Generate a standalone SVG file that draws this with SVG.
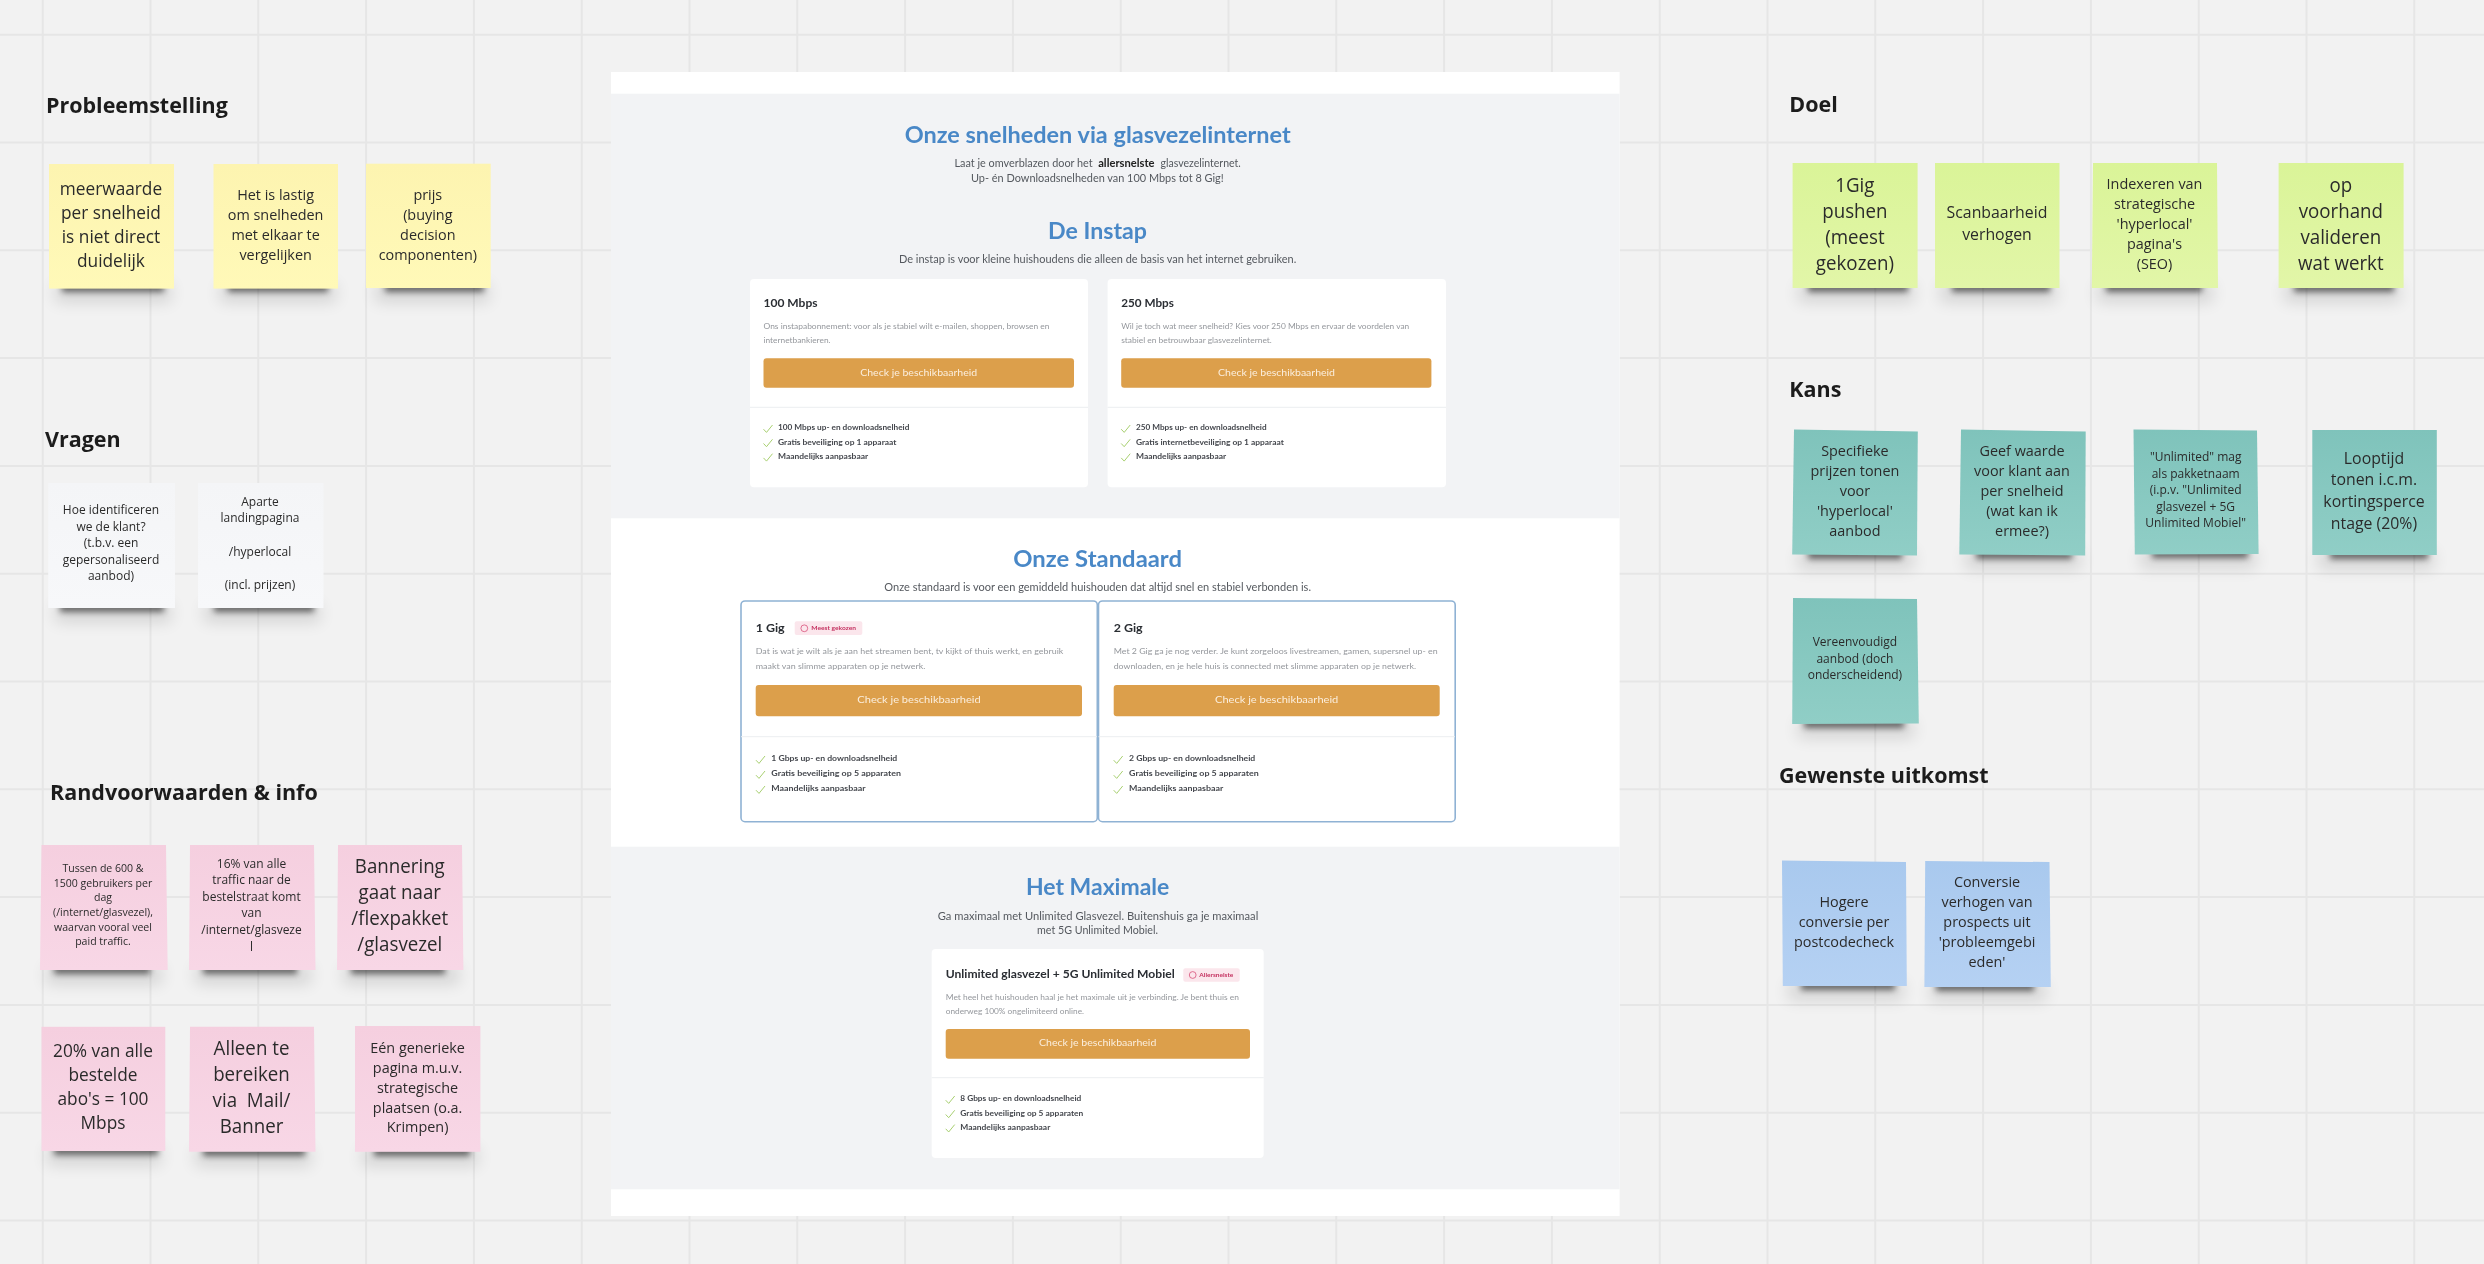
<svg xmlns="http://www.w3.org/2000/svg" xmlns:xlink="http://www.w3.org/1999/xlink" width="2484" height="1264" viewBox="0 0 2484 1264">
<style>
text{font-family:"Open Sans","Noto Sans","Liberation Sans",sans-serif;fill:#2b2b2b}
.h{font-weight:700;font-size:21.5px;fill:#1c1c1c}
.n text{text-anchor:middle;transform:scaleX(.96);transform-box:fill-box;transform-origin:center}
.f11{font-size:11px}.f12{font-size:12.5px}.f15{font-size:15px}.f16{font-size:16.5px}.f18{font-size:18px}.f19{font-size:19.5px}
.y{fill:url(#gy)}.w{fill:url(#gw)}.p{fill:url(#gp)}.g{fill:url(#gg)}.t{fill:url(#gt)}.b{fill:url(#gb)}
.grid{stroke:#e6e6e6;stroke-width:2;fill:none}
.sd1{fill:#000;opacity:.55;filter:url(#b1)}.sd2{fill:#000;opacity:.12;filter:url(#b2)}
#panel text{font-family:Lato,"Liberation Sans",sans-serif}
.hd{font-size:22px;font-weight:700;fill:#4a88c7}
.sub{font-size:10.5px;fill:#55595f}.sb{font-weight:700;fill:#222}
.ct{font-size:12px;font-weight:700;fill:#2a2d33}
.ds{font-size:8px;fill:#94979c}
.ft{font-size:8px;font-weight:700;fill:#44474d}
.bt{font-size:9.5px;fill:#fbeedd}
.bd{font-size:6px;font-weight:700;fill:#c4305f}
.btn{fill:#dc9f4b}
.card{fill:#fff}
.cb{fill:#fff;stroke:#8fb2d4;stroke-width:1.6}
.dv{stroke:#eceef0;stroke-width:1}
.chk{fill:none;stroke:#a8d070;stroke-width:1}
.soft{filter:url(#s)}
</style>
<defs>
<linearGradient id="gy" x1="0" y1="0" x2="0" y2="1"><stop offset="0" stop-color="#fdf4b0"/><stop offset="1" stop-color="#fff9b8"/></linearGradient>
<linearGradient id="gw" x1="0" y1="0" x2="0" y2="1"><stop offset="0" stop-color="#f4f5f7"/><stop offset="1" stop-color="#f7f8fa"/></linearGradient>
<linearGradient id="gp" x1="0" y1="0" x2="0" y2="1"><stop offset="0" stop-color="#f5cfdf"/><stop offset="1" stop-color="#f8d7e6"/></linearGradient>
<linearGradient id="gg" x1="0" y1="0" x2="0" y2="1"><stop offset="0" stop-color="#daf498"/><stop offset="1" stop-color="#e2f6a8"/></linearGradient>
<linearGradient id="gt" x1="0" y1="0" x2="0" y2="1"><stop offset="0" stop-color="#7fc3bb"/><stop offset="1" stop-color="#90cec6"/></linearGradient>
<linearGradient id="gb" x1="0" y1="0" x2="0" y2="1"><stop offset="0" stop-color="#a9c9ee"/><stop offset="1" stop-color="#b5d1f3"/></linearGradient>
<filter id="b1" x="-20%" y="-200%" width="140%" height="500%"><feGaussianBlur stdDeviation="3.2"/></filter>
<filter id="b2" x="-20%" y="-200%" width="140%" height="500%"><feGaussianBlur stdDeviation="8"/></filter>
<filter id="s" x="-2%" y="-2%" width="104%" height="104%"><feGaussianBlur stdDeviation="0.35"/></filter>
<path id="c" class="chk" d="M0 4.2 L3 7.4 L9 0"/>
<circle id="bc" r="3.4" fill="none" stroke="#d8507a" stroke-width=".8"/>
</defs>
<rect width="2484" height="1264" fill="#f2f2f2"/>
<path id="grid" class="grid" d="M42.7 0V1264M150.5 0V1264M258.3 0V1264M366.1 0V1264M473.9 0V1264M581.7 0V1264M689.5 0V1264M797.3 0V1264M905.1 0V1264M1012.9 0V1264M1120.7 0V1264M1228.5 0V1264M1336.3 0V1264M1444.1 0V1264M1551.9 0V1264M1659.7 0V1264M1767.5 0V1264M1875.3 0V1264M1983.1 0V1264M2090.9 0V1264M2198.7 0V1264M2306.5 0V1264M2414.3 0V1264M0 34.7H2484M0 142.5H2484M0 250.3H2484M0 358.1H2484M0 465.9H2484M0 573.7H2484M0 681.5H2484M0 789.3H2484M0 897.1H2484M0 1004.9H2484M0 1112.7H2484M0 1220.5H2484"/>

<g id="panel">
<rect x="611" y="72" width="1008.6" height="1144" fill="#fff"/>
<rect x="611" y="93.7" width="1008.6" height="424.6" fill="#f2f3f5"/>
<rect x="611" y="846.7" width="1008.6" height="342.6" fill="#f2f3f5"/>
<g id="intro" class="soft">
<text class="hd" x="904.7" y="142.5" textLength="386" lengthAdjust="spacingAndGlyphs">Onze snelheden via glasvezelinternet</text>
<text class="sub" y="167.3"><tspan x="954.5" textLength="141" lengthAdjust="spacingAndGlyphs">Laat je omverblazen door het </tspan><tspan class="sb" x="1098.2" textLength="56.3" lengthAdjust="spacingAndGlyphs">allersnelste</tspan><tspan x="1157.8" textLength="83" lengthAdjust="spacingAndGlyphs"> glasvezelinternet.</tspan></text>
<text class="sub" x="971" y="182" textLength="252.7" lengthAdjust="spacingAndGlyphs">Up- én Downloadsnelheden van 100 Mbps tot 8 Gig!</text>
<text class="hd" x="1048" y="238.5" textLength="99" lengthAdjust="spacingAndGlyphs">De Instap</text>
<text class="sub" x="899" y="263" textLength="397.3" lengthAdjust="spacingAndGlyphs">De instap is voor kleine huishoudens die alleen de basis van het internet gebruiken.</text>
</g>
<g id="card-100" class="soft">
<rect class="card" x="750" y="279" width="338" height="208.3" rx="4"/>
<text class="ct" x="763.5" y="307.3" textLength="54" lengthAdjust="spacingAndGlyphs">100 Mbps</text>
<text class="ds" x="763.5" y="329" textLength="286" lengthAdjust="spacingAndGlyphs">Ons instapabonnement: voor als je stabiel wilt e-mailen, shoppen, browsen en</text>
<text class="ds" x="763.5" y="343" textLength="67" lengthAdjust="spacingAndGlyphs">internetbankieren.</text>
<rect class="btn" x="763.5" y="358.3" width="310.5" height="29.4" rx="3"/>
<text class="bt" x="860.2" y="375.7" textLength="117" lengthAdjust="spacingAndGlyphs">Check je beschikbaarheid</text>
<line class="dv" x1="750" x2="1088" y1="407.3" y2="407.3"/>
<use xlink:href="#c" x="763.5" y="425"/><use xlink:href="#c" x="763.5" y="439.3"/><use xlink:href="#c" x="763.5" y="453.7"/>
<text class="ft" x="778" y="430" textLength="131.4" lengthAdjust="spacingAndGlyphs">100 Mbps up- en downloadsnelheid</text>
<text class="ft" x="778" y="444.5" textLength="118.4" lengthAdjust="spacingAndGlyphs">Gratis beveiliging op 1 apparaat</text>
<text class="ft" x="778" y="459" textLength="90.2" lengthAdjust="spacingAndGlyphs">Maandelijks aanpasbaar</text>
</g>
<g id="card-250" class="soft">
<rect class="card" x="1107.6" y="279" width="338.4" height="208.3" rx="4"/>
<text class="ct" x="1121.2" y="307.3" textLength="52.7" lengthAdjust="spacingAndGlyphs">250 Mbps</text>
<text class="ds" x="1121.2" y="329" textLength="288" lengthAdjust="spacingAndGlyphs">Wil je toch wat meer snelheid? Kies voor 250 Mbps en ervaar de voordelen van</text>
<text class="ds" x="1121.2" y="343" textLength="150.6" lengthAdjust="spacingAndGlyphs">stabiel en betrouwbaar glasvezelinternet.</text>
<rect class="btn" x="1121.2" y="358.3" width="310.2" height="29.4" rx="3"/>
<text class="bt" x="1218" y="375.7" textLength="117" lengthAdjust="spacingAndGlyphs">Check je beschikbaarheid</text>
<line class="dv" x1="1107.6" x2="1446" y1="407.3" y2="407.3"/>
<use xlink:href="#c" x="1121.2" y="425"/><use xlink:href="#c" x="1121.2" y="439.3"/><use xlink:href="#c" x="1121.2" y="453.7"/>
<text class="ft" x="1136" y="430" textLength="130.6" lengthAdjust="spacingAndGlyphs">250 Mbps up- en downloadsnelheid</text>
<text class="ft" x="1136" y="444.5" textLength="147.8" lengthAdjust="spacingAndGlyphs">Gratis internetbeveiliging op 1 apparaat</text>
<text class="ft" x="1136" y="459" textLength="90.2" lengthAdjust="spacingAndGlyphs">Maandelijks aanpasbaar</text>
</g>
<g id="standaard-head" class="soft">
<text class="hd" x="1013.3" y="566.5" textLength="168.7" lengthAdjust="spacingAndGlyphs">Onze Standaard</text>
<text class="sub" x="884.3" y="591.3" textLength="426.7" lengthAdjust="spacingAndGlyphs">Onze standaard is voor een gemiddeld huishouden dat altijd snel en stabiel verbonden is.</text>
</g>
<g id="card-1gig" class="soft">
<rect class="cb" x="741" y="601" width="356.3" height="220.7" rx="4"/>
<text class="ct" x="755.7" y="631.7" textLength="29" lengthAdjust="spacingAndGlyphs">1 Gig</text>
<rect x="794.7" y="621.3" width="67.6" height="13.7" rx="2" fill="#fbe6ec"/>
<use xlink:href="#bc" x="804.3" y="628.3"/>
<text class="bd" x="811.3" y="630.2" textLength="44.7" lengthAdjust="spacingAndGlyphs">Meest gekozen</text>
<text class="ds" x="755.7" y="654.3" textLength="307.6" lengthAdjust="spacingAndGlyphs">Dat is wat je wilt als je aan het streamen bent, tv kijkt of thuis werkt, en gebruik</text>
<text class="ds" x="755.7" y="669.3" textLength="169.6" lengthAdjust="spacingAndGlyphs">maakt van slimme apparaten op je netwerk.</text>
<rect class="btn" x="755.7" y="685" width="326.3" height="31.3" rx="3"/>
<text class="bt" x="857.3" y="703.3" textLength="123.4" lengthAdjust="spacingAndGlyphs">Check je beschikbaarheid</text>
<line class="dv" x1="741" x2="1097" y1="736.7" y2="736.7"/>
<use xlink:href="#c" x="756" y="756"/><use xlink:href="#c" x="756" y="771"/><use xlink:href="#c" x="756" y="786"/>
<text class="ft" x="771.3" y="761" textLength="126" lengthAdjust="spacingAndGlyphs">1 Gbps up- en downloadsnelheid</text>
<text class="ft" x="771.3" y="776" textLength="129.7" lengthAdjust="spacingAndGlyphs">Gratis beveiliging op 5 apparaten</text>
<text class="ft" x="771.3" y="791" textLength="94.3" lengthAdjust="spacingAndGlyphs">Maandelijks aanpasbaar</text>
</g>
<g id="card-2gig" class="soft">
<rect class="cb" x="1098.5" y="601" width="356.7" height="220.7" rx="4"/>
<text class="ct" x="1113.7" y="631.7" textLength="29" lengthAdjust="spacingAndGlyphs">2 Gig</text>
<text class="ds" x="1113.7" y="654.3" textLength="324" lengthAdjust="spacingAndGlyphs">Met 2 Gig ga je nog verder. Je kunt zorgeloos livestreamen, gamen, supersnel up- en</text>
<text class="ds" x="1113.7" y="669.3" textLength="302.3" lengthAdjust="spacingAndGlyphs">downloaden, en je hele huis is connected met slimme apparaten op je netwerk.</text>
<rect class="btn" x="1113.7" y="685" width="326" height="31.3" rx="3"/>
<text class="bt" x="1215" y="703.3" textLength="123.3" lengthAdjust="spacingAndGlyphs">Check je beschikbaarheid</text>
<line class="dv" x1="1098.5" x2="1455" y1="736.7" y2="736.7"/>
<use xlink:href="#c" x="1113.7" y="756"/><use xlink:href="#c" x="1113.7" y="771"/><use xlink:href="#c" x="1113.7" y="786"/>
<text class="ft" x="1129" y="761" textLength="126.3" lengthAdjust="spacingAndGlyphs">2 Gbps up- en downloadsnelheid</text>
<text class="ft" x="1129" y="776" textLength="129.7" lengthAdjust="spacingAndGlyphs">Gratis beveiliging op 5 apparaten</text>
<text class="ft" x="1129" y="791" textLength="94.3" lengthAdjust="spacingAndGlyphs">Maandelijks aanpasbaar</text>
</g>
<g id="maximale-head" class="soft">
<text class="hd" x="1026" y="894.8" textLength="143.3" lengthAdjust="spacingAndGlyphs">Het Maximale</text>
<text class="sub" x="937.7" y="919.7" textLength="320.6" lengthAdjust="spacingAndGlyphs">Ga maximaal met Unlimited Glasvezel. Buitenshuis ga je maximaal</text>
<text class="sub" x="1037" y="933.7" textLength="121" lengthAdjust="spacingAndGlyphs">met 5G Unlimited Mobiel.</text>
</g>
<g id="card-unlimited" class="soft">
<rect class="card" x="931.7" y="949" width="332" height="209" rx="4"/>
<text class="ct" x="945.7" y="978" textLength="229" lengthAdjust="spacingAndGlyphs">Unlimited glasvezel + 5G Unlimited Mobiel</text>
<rect x="1183.3" y="968.3" width="56.4" height="13.4" rx="2" fill="#fbe6ec"/>
<use xlink:href="#bc" x="1192.7" y="975"/>
<text class="bd" x="1199.3" y="977" textLength="34" lengthAdjust="spacingAndGlyphs">Allersnelste</text>
<text class="ds" x="945.7" y="999.7" textLength="293.3" lengthAdjust="spacingAndGlyphs">Met heel het huishouden haal je het maximale uit je verbinding. Je bent thuis en</text>
<text class="ds" x="945.7" y="1013.7" textLength="138.3" lengthAdjust="spacingAndGlyphs">onderweg 100% ongelimiteerd online.</text>
<rect class="btn" x="945.7" y="1029" width="304.3" height="29.7" rx="3"/>
<text class="bt" x="1039" y="1046" textLength="117.3" lengthAdjust="spacingAndGlyphs">Check je beschikbaarheid</text>
<line class="dv" x1="931.7" x2="1263.7" y1="1077.7" y2="1077.7"/>
<use xlink:href="#c" x="945.7" y="1096"/><use xlink:href="#c" x="945.7" y="1110.3"/><use xlink:href="#c" x="945.7" y="1124.6"/>
<text class="ft" x="960.3" y="1101.3" textLength="121" lengthAdjust="spacingAndGlyphs">8 Gbps up- en downloadsnelheid</text>
<text class="ft" x="960.3" y="1115.7" textLength="123" lengthAdjust="spacingAndGlyphs">Gratis beveiliging op 5 apparaten</text>
<text class="ft" x="960.3" y="1130" textLength="90" lengthAdjust="spacingAndGlyphs">Maandelijks aanpasbaar</text>
</g>
</g>

<g id="headings" class="soft">
<text class="h" x="45.9" y="113">Probleemstelling</text>
<text class="h" x="45" y="447">Vragen</text>
<text class="h" x="50" y="800">Randvoorwaarden &amp; info</text>
<text class="h" x="1789.3" y="112.2">Doel</text>
<text class="h" x="1789.3" y="396.5">Kans</text>
<text class="h" x="1779" y="782.7">Gewenste uitkomst</text>
</g>

<g id="n1" class="n"><rect class="sd2" x="55" y="284" width="116" height="18"/><rect class="sd1" x="62" y="283" width="102" height="9"/><rect class="y" x="49" y="164" width="125" height="124.6"/>
<text class="f18 soft"><tspan x="111" y="195">meerwaarde</tspan><tspan x="111" y="219">per snelheid</tspan><tspan x="111" y="243">is niet direct</tspan><tspan x="111" y="267">duidelijk</tspan></text></g>
<g id="n2" class="n"><rect class="sd2" x="220" y="284" width="116" height="18"/><rect class="sd1" x="228" y="283" width="100" height="9"/><rect class="y" x="213.5" y="164" width="124.5" height="124.6"/>
<text class="f15 soft"><tspan x="275.6" y="200">Het is lastig</tspan><tspan x="275.6" y="220">om snelheden</tspan><tspan x="275.6" y="240">met elkaar te</tspan><tspan x="275.6" y="260">vergelijken</tspan></text></g>
<g id="n3" class="n"><rect class="sd2" x="375" y="284" width="114" height="18"/><rect class="sd1" x="385" y="283" width="99" height="9"/><rect class="y" x="366" y="163.7" width="124.7" height="124.3"/>
<text class="f15 soft"><tspan x="427.8" y="200">prijs</tspan><tspan x="427.8" y="220">(buying</tspan><tspan x="427.8" y="240">decision</tspan><tspan x="427.8" y="260">componenten)</tspan></text></g>
<g id="n4" class="n"><rect class="sd2" x="55" y="604" width="116" height="18"/><rect class="sd1" x="60" y="603" width="104" height="9"/><rect class="w" x="48.2" y="483" width="126.8" height="125"/>
<text class="f12 soft"><tspan x="111" y="514">Hoe identificeren</tspan><tspan x="111" y="530.6">we de klant?</tspan><tspan x="111" y="547.3">(t.b.v. een</tspan><tspan x="111" y="564">gepersonaliseerd</tspan><tspan x="111" y="580.4">aanbod)</tspan></text></g>
<g id="n5" class="n"><rect class="sd2" x="204" y="604" width="116" height="18"/><rect class="sd1" x="214" y="603" width="100" height="9"/><rect class="w" x="198" y="483" width="125.5" height="125"/>
<text class="f12 soft"><tspan x="260" y="506">Aparte</tspan><tspan x="260" y="522.4">landingpagina</tspan><tspan x="260" y="556">/hyperlocal</tspan><tspan x="260" y="589">(incl. prijzen)</tspan></text></g>

<g id="n6" class="n"><rect class="sd2" x="46" y="966" width="116" height="18"/><rect class="sd1" x="54" y="965" width="96" height="9"/><polygon class="p" points="41.5,845 166,845 167.7,970 40,970"/>
<text class="f11 soft"><tspan x="103" y="872">Tussen de 600 &amp;</tspan><tspan x="103" y="886.7">1500 gebruikers per</tspan><tspan x="103" y="901.4">dag</tspan><tspan x="103" y="916">(/internet/glasvezel),</tspan><tspan x="103" y="931">waarvan vooral veel</tspan><tspan x="103" y="945">paid traffic.</tspan></text></g>
<g id="n7" class="n"><rect class="sd2" x="195" y="966" width="116" height="18"/><rect class="sd1" x="203" y="965" width="94" height="9"/><polygon class="p" points="190,845 314,845 315.5,970 189,970"/>
<text class="f12 soft"><tspan x="251.5" y="867.7">16% van alle</tspan><tspan x="251.5" y="884.4">traffic naar de</tspan><tspan x="251.5" y="901">bestelstraat komt</tspan><tspan x="251.5" y="917.5">van</tspan><tspan x="251.5" y="934">/internet/glasveze</tspan><tspan x="251.5" y="950.6">l</tspan></text></g>
<g id="n8" class="n"><rect class="sd2" x="343" y="966" width="116" height="18"/><rect class="sd1" x="351" y="965" width="94" height="9"/><polygon class="p" points="338,845 462,845 463.4,970 337,970"/>
<text class="f19 soft"><tspan x="399.8" y="873">Bannering</tspan><tspan x="399.8" y="899.4">gaat naar</tspan><tspan x="399.8" y="925">/flexpakket</tspan><tspan x="399.8" y="951">/glasvezel</tspan></text></g>
<g id="n9" class="n"><rect class="sd2" x="47" y="1147" width="114" height="18"/><rect class="sd1" x="54" y="1146" width="104" height="9"/><rect class="p" x="41.5" y="1026.8" width="123.8" height="124.2"/>
<text class="f18 soft"><tspan x="103" y="1057.5">20% van alle</tspan><tspan x="103" y="1081">bestelde</tspan><tspan x="103" y="1105">abo's = 100</tspan><tspan x="103" y="1129.4">Mbps</tspan></text></g>
<g id="n10" class="n"><rect class="sd2" x="195" y="1148" width="116" height="18"/><rect class="sd1" x="203" y="1147" width="102" height="9"/><polygon class="p" points="190,1026.8 314,1026.8 315.5,1151.8 189,1151.8"/>
<text class="f19 soft"><tspan x="251.5" y="1055.5">Alleen te</tspan><tspan x="251.5" y="1081">bereiken</tspan><tspan x="251.5" y="1107.3" xml:space="preserve">via  Mail/</tspan><tspan x="251.5" y="1133">Banner</tspan></text></g>
<g id="n11" class="n"><rect class="sd2" x="362" y="1148" width="116" height="18"/><rect class="sd1" x="374" y="1147" width="96" height="9"/><rect class="p" x="355" y="1026" width="125.4" height="125.8"/>
<text class="f15 soft"><tspan x="417.6" y="1052.8">Eén generieke</tspan><tspan x="417.6" y="1072.9">pagina m.u.v.</tspan><tspan x="417.6" y="1092.6">strategische</tspan><tspan x="417.6" y="1112.7">plaatsen (o.a.</tspan><tspan x="417.6" y="1132.4">Krimpen)</tspan></text></g>

<g id="n12" class="n"><rect class="sd2" x="1798" y="284" width="116" height="18"/><rect class="sd1" x="1808" y="283" width="100" height="9"/><rect class="g" x="1792.6" y="163" width="125" height="125"/>
<text class="f19 soft"><tspan x="1854.9" y="192">1Gig</tspan><tspan x="1854.9" y="217.9">pushen</tspan><tspan x="1854.9" y="243.7">(meest</tspan><tspan x="1854.9" y="269.6">gekozen)</tspan></text></g>
<g id="n13" class="n"><rect class="sd2" x="1940" y="284" width="116" height="18"/><rect class="sd1" x="1952" y="283" width="98" height="9"/><rect class="g" x="1935" y="163" width="124.5" height="125"/>
<text class="f16 soft"><tspan x="1997" y="217.9">Scanbaarheid</tspan><tspan x="1997" y="240">verhogen</tspan></text></g>
<g id="n14" class="n"><rect class="sd2" x="2097" y="284" width="116" height="18"/><rect class="sd1" x="2106" y="283" width="96" height="9"/><polygon class="g" points="2093,163 2217,163 2218,288 2091.8,288"/>
<text class="f15 soft"><tspan x="2154.5" y="189.4">Indexeren van</tspan><tspan x="2154.5" y="209">strategische</tspan><tspan x="2154.5" y="229">'hyperlocal'</tspan><tspan x="2154.5" y="249">pagina's</tspan><tspan x="2154.5" y="269">(SEO)</tspan></text></g>
<g id="n15" class="n"><rect class="sd2" x="2284" y="284" width="116" height="18"/><rect class="sd1" x="2294" y="283" width="100" height="9"/><rect class="g" x="2278.6" y="163" width="125" height="125"/>
<text class="f19 soft"><tspan x="2340.8" y="192">op</tspan><tspan x="2340.8" y="217.9">voorhand</tspan><tspan x="2340.8" y="243.7">valideren</tspan><tspan x="2340.8" y="269.6">wat werkt</tspan></text></g>

<g id="n16" class="n"><rect class="sd2" x="1798" y="551" width="116" height="18"/><rect class="sd1" x="1808" y="550" width="94" height="9"/><polygon class="t" points="1794,429.5 1917.8,431.5 1917,555.5 1792.2,554.5"/>
<text class="f15 soft"><tspan x="1854.9" y="456.4">Specifieke</tspan><tspan x="1854.9" y="476.2">prijzen tonen</tspan><tspan x="1854.9" y="496">voor</tspan><tspan x="1854.9" y="516">'hyperlocal'</tspan><tspan x="1854.9" y="536">aanbod</tspan></text></g>
<g id="n17" class="n"><rect class="sd2" x="1965" y="551" width="116" height="18"/><rect class="sd1" x="1976" y="550" width="96" height="9"/><polygon class="t" points="1961,429.5 2085.7,431.5 2085.2,555.5 1959.3,554.5"/>
<text class="f15 soft"><tspan x="2022" y="456.4">Geef waarde</tspan><tspan x="2022" y="476.2">voor klant aan</tspan><tspan x="2022" y="496">per snelheid</tspan><tspan x="2022" y="516">(wat kan ik</tspan><tspan x="2022" y="536">ermee?)</tspan></text></g>
<g id="n18" class="n"><rect class="sd2" x="2140" y="550" width="116" height="18"/><rect class="sd1" x="2152" y="549" width="96" height="9"/><polygon class="t" points="2133.5,429.5 2257,430.5 2258.6,554 2134.8,554.5"/>
<text class="f12 soft"><tspan x="2195.7" y="461.3">"Unlimited" mag</tspan><tspan x="2195.7" y="478">als pakketnaam</tspan><tspan x="2195.7" y="494.5">(i.p.v. "Unlimited</tspan><tspan x="2195.7" y="511">glasvezel + 5G</tspan><tspan x="2195.7" y="527">Unlimited Mobiel"</tspan></text></g>
<g id="n19" class="n"><rect class="sd2" x="2318" y="551" width="116" height="18"/><rect class="sd1" x="2330" y="550" width="98" height="9"/><rect class="t" x="2312.3" y="430" width="124.5" height="125"/>
<text class="f16 soft"><tspan x="2374" y="463.6">Looptijd</tspan><tspan x="2374" y="485.5">tonen i.c.m.</tspan><tspan x="2374" y="507.4">kortingsperce</tspan><tspan x="2374" y="529.3">ntage (20%)</tspan></text></g>
<g id="n20" class="n"><rect class="sd2" x="1798" y="720" width="116" height="18"/><rect class="sd1" x="1804" y="719" width="100" height="9"/><polygon class="t" points="1793,598 1917,599 1918.8,723.5 1792.2,724"/>
<text class="f12 soft"><tspan x="1854.9" y="646">Vereenvoudigd</tspan><tspan x="1854.9" y="662.7">aanbod (doch</tspan><tspan x="1854.9" y="679.3">onderscheidend)</tspan></text></g>

<g id="n21" class="n"><rect class="sd2" x="1788" y="982" width="116" height="18"/><rect class="sd1" x="1801" y="981" width="94" height="9"/><polygon class="b" points="1782,860.5 1906,862 1906.8,986 1782.8,986"/>
<text class="f15 soft"><tspan x="1844" y="907.3">Hogere</tspan><tspan x="1844" y="927.3">conversie per</tspan><tspan x="1844" y="947.3">postcodecheck</tspan></text></g>
<g id="n22" class="n"><rect class="sd2" x="1930" y="983" width="116" height="18"/><rect class="sd1" x="1936" y="982" width="98" height="9"/><polygon class="b" points="1925.2,861 2049.5,862 2050.8,987 1924.4,987"/>
<text class="f15 soft"><tspan x="1987" y="887.3">Conversie</tspan><tspan x="1987" y="907.3">verhogen van</tspan><tspan x="1987" y="927.3">prospects uit</tspan><tspan x="1987" y="947.3">'probleemgebi</tspan><tspan x="1987" y="967.3">eden'</tspan></text></g>
</svg>
